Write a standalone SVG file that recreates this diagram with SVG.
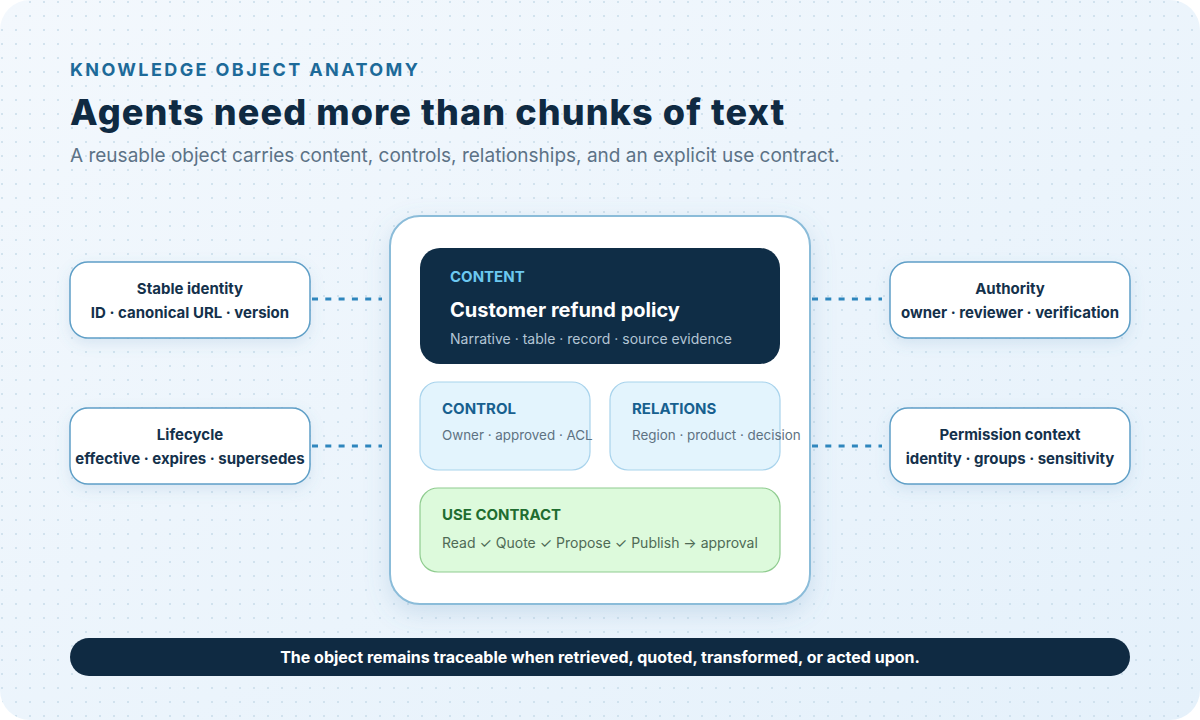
<svg xmlns="http://www.w3.org/2000/svg" width="1200" height="720" viewBox="0 0 1200 720">
<defs>
<linearGradient id="bg" x1="0" y1="0" x2="1" y2="1">
<stop offset="0" stop-color="#f3f8fd"/>
<stop offset="1" stop-color="#e5f1fb"/>
</linearGradient>
<pattern id="dots" width="14" height="14" patternUnits="userSpaceOnUse">
<circle cx="2" cy="2" r="1" fill="#c9dcea"/>
</pattern>
<filter id="sh" x="-20%" y="-20%" width="140%" height="150%">
<feDropShadow dx="0" dy="8" stdDeviation="12" flood-color="#5a8fb8" flood-opacity="0.22"/>
</filter>
<filter id="shs" x="-20%" y="-30%" width="140%" height="170%">
<feDropShadow dx="0" dy="5" stdDeviation="7" flood-color="#5a8fb8" flood-opacity="0.16"/>
</filter>
<style>
text{font-family:Inter,"Liberation Sans",sans-serif}
.side rect{fill:#fff;stroke:#5f9fc7;stroke-width:1.5}
.side text{font-size:15px;font-weight:700;fill:#14314b;text-anchor:middle}
.conn line{stroke:#2e86bd;stroke-width:3;stroke-dasharray:6 7.3}
.lbl{font-size:15px;font-weight:700}
.sub{font-size:14px}
.sub2{font-size:13.4px}
</style>
</defs>
<rect width="1200" height="720" fill="#fff"/>
<rect width="1200" height="720" rx="30" fill="url(#bg)"/>
<rect width="1200" height="720" rx="30" fill="url(#dots)"/>

<text x="70" y="76" font-size="18" font-weight="700" fill="#1d6a99" letter-spacing="2.4">KNOWLEDGE OBJECT ANATOMY</text>
<text x="70" y="125" font-size="36" font-weight="800" fill="#0f2a42" letter-spacing="1.1">Agents need more than chunks of text</text>
<text x="70" y="162" font-size="19" fill="#5c7286">A reusable object carries content, controls, relationships, and an explicit use contract.</text>

<g class="conn" id="connectors">
<line x1="312" y1="299" x2="382" y2="299"/>
<line x1="312" y1="446" x2="382" y2="446"/>
<line x1="812" y1="299" x2="882" y2="299"/>
<line x1="812" y1="446" x2="882" y2="446"/>
</g>

<g id="object">
<rect x="390" y="216" width="420" height="388" rx="30" fill="#fff" stroke="#8bbcd9" stroke-width="2" filter="url(#sh)"/>
</g>

<g id="content">
<rect x="420" y="248" width="360" height="116" rx="20" fill="#0f2d46"/>
<text x="450" y="282" class="lbl" fill="#6cc8f0">CONTENT</text>
<text x="450" y="317" font-size="20" font-weight="700" fill="#fff">Customer refund policy</text>
<text x="450" y="344" class="sub" fill="#b3c5d5">Narrative · table · record · source evidence</text>
</g>

<g id="control">
<rect x="420" y="382" width="170" height="88" rx="18" fill="#e3f4fd" stroke="#a8d3ec" stroke-width="1.2"/>
<text x="442" y="414" class="lbl" fill="#17608f">CONTROL</text>
<text x="442" y="440" class="sub2" fill="#5e7282">Owner · approved · ACL</text>
</g>

<g id="relations">
<rect x="610" y="382" width="170" height="88" rx="18" fill="#e3f4fd" stroke="#a8d3ec" stroke-width="1.2"/>
<text x="632" y="414" class="lbl" fill="#17608f">RELATIONS</text>
<text x="632" y="440" class="sub2" fill="#5e7282">Region · product · decision</text>
</g>

<g id="use-contract">
<rect x="420" y="488" width="360" height="84" rx="18" fill="#ddfadc" stroke="#8fcc8f" stroke-width="1.2"/>
<text x="442" y="520" class="lbl" fill="#1f6d30">USE CONTRACT</text>
<text x="442" y="548" class="sub" fill="#4f6a55">Read ✓ Quote ✓ Propose ✓ Publish → approval</text>
</g>

<g id="stable-identity" class="side">
<rect x="70" y="262" width="240" height="76" rx="18" filter="url(#shs)"/>
<text x="190" y="294">Stable identity</text>
<text x="190" y="318">ID · canonical URL · version</text>
</g>

<g id="lifecycle" class="side">
<rect x="70" y="408" width="240" height="76" rx="18" filter="url(#shs)"/>
<text x="190" y="440">Lifecycle</text>
<text x="190" y="464">effective · expires · supersedes</text>
</g>

<g id="authority" class="side">
<rect x="890" y="262" width="240" height="76" rx="18" filter="url(#shs)"/>
<text x="1010" y="294">Authority</text>
<text x="1010" y="318">owner · reviewer · verification</text>
</g>

<g id="permission-context" class="side">
<rect x="890" y="408" width="240" height="76" rx="18" filter="url(#shs)"/>
<text x="1010" y="440">Permission context</text>
<text x="1010" y="464">identity · groups · sensitivity</text>
</g>

<g id="footer">
<rect x="70" y="638" width="1060" height="38" rx="19" fill="#0f2a42"/>
<text x="600" y="663" text-anchor="middle" font-size="16" font-weight="700" fill="#fff">The object remains traceable when retrieved, quoted, transformed, or acted upon.</text>
</g>
</svg>
